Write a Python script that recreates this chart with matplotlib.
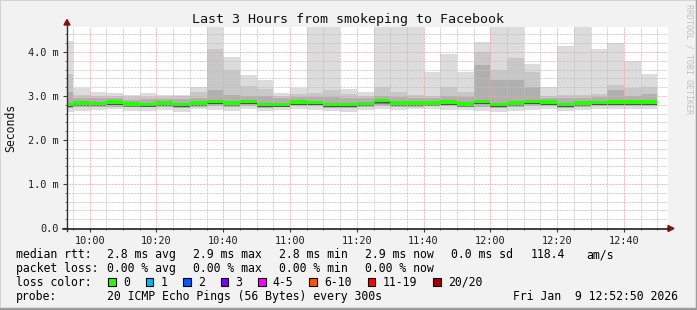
import numpy as np
import matplotlib
matplotlib.use('Agg')
import matplotlib.pyplot as plt
from matplotlib.lines import Line2D
from matplotlib.patches import Polygon, Rectangle
from matplotlib.ticker import FixedLocator

W, H = 697, 310
MONO = 'DejaVu Sans Mono'

# ---- data (times in minutes since midnight, rtt in ms) ----
title = 'Last 3 Hours from smokeping to Facebook'
t_start = 9 * 60 + 53.2
t_end = t_start + 180
slot_start = 590          # 09:50, first 5 minute slot
slot_len = 5

ping_max = [4.26, 3.18, 3.10, 3.07, 3.03, 3.07, 3.03, 3.03, 3.20, 4.80,
            3.89, 3.48, 3.36, 3.07, 3.18, 4.80, 4.80, 3.16, 3.10, 4.80,
            4.80, 4.80, 3.54, 3.95, 3.54, 4.24, 4.80, 4.80, 3.73, 3.21,
            4.14, 4.80, 4.07, 4.20, 3.79, 3.51]
ping_p90 = [3.51, 3.02, 3.00, 3.00, 2.97, 2.98, 2.98, 2.99, 3.10, 4.07,
            3.60, 3.23, 3.16, 3.00, 3.05, 3.07, 3.14, 3.05, 3.00, 3.20,
            3.10, 3.03, 3.00, 3.20, 3.10, 4.01, 3.60, 3.86, 3.54, 3.00,
            3.03, 3.03, 3.05, 3.26, 3.18, 3.20]
ping_q3 = [3.10, 2.96, 2.95, 2.95, 2.92, 2.93, 2.93, 2.93, 2.96, 3.14,
           3.03, 3.00, 3.00, 2.95, 2.97, 2.98, 2.98, 2.96, 2.95, 2.99,
           2.98, 2.96, 2.95, 3.00, 2.98, 3.70, 3.37, 3.37, 3.20, 2.95,
           2.96, 2.96, 2.97, 3.14, 3.00, 3.04]
median = [2.80, 2.84, 2.83, 2.86, 2.82, 2.80, 2.84, 2.80, 2.84, 2.87,
          2.84, 2.87, 2.81, 2.81, 2.86, 2.85, 2.81, 2.80, 2.83, 2.89,
          2.84, 2.84, 2.84, 2.86, 2.82, 2.87, 2.81, 2.84, 2.87, 2.86,
          2.80, 2.84, 2.85, 2.86, 2.86, 2.86]
ping_q1 = [2.72, 2.76, 2.76, 2.76, 2.74, 2.74, 2.76, 2.72, 2.76, 2.77,
           2.75, 2.77, 2.73, 2.74, 2.78, 2.77, 2.73, 2.72, 2.75, 2.78,
           2.75, 2.76, 2.77, 2.77, 2.75, 2.75, 2.72, 2.75, 2.77, 2.78,
           2.73, 2.76, 2.77, 2.77, 2.77, 2.77]
ping_min = [2.64, 2.67, 2.69, 2.70, 2.67, 2.66, 2.69, 2.63, 2.70, 2.68,
            2.66, 2.70, 2.66, 2.68, 2.70, 2.69, 2.66, 2.64, 2.68, 2.70,
            2.68, 2.70, 2.71, 2.69, 2.68, 2.66, 2.64, 2.67, 2.69, 2.71,
            2.66, 2.69, 2.70, 2.70, 2.70, 2.70]

x_tick_pos = [600, 620, 640, 660, 680, 700, 720, 740, 760]
x_tick_labels = ['10:00', '10:20', '10:40', '11:00', '11:20', '11:40',
                 '12:00', '12:20', '12:40']
y_tick_pos = [0, 1, 2, 3, 4]
y_tick_labels = ['0.0', '1.0 m', '2.0 m', '3.0 m', '4.0 m']

rtt_items = ['2.8 ms avg', '2.9 ms max', '2.8 ms min', '2.9 ms now',
             '0.0 ms sd', '118.4', 'am/s']
loss_items = ['0.00 % avg', '0.00 % max', '0.00 % min', '0.00 % now']
loss_labels = ['0', '1', '2', '3', '4-5', '6-10', '11-19', '20/20']
loss_colors = ['#26ff00', '#00b8ff', '#0059ff', '#7e00ff', '#ff00ff',
               '#ff5500', '#ff0000', '#a10000']
probe_text = '20 ICMP Echo Pings (56 Bytes) every 300s'
stamp_text = 'Fri Jan  9 12:52:50 2026'

# ---- figure ----
fig = plt.figure(figsize=(W / 100, H / 100), dpi=100, facecolor='#f2f2f2')
ax = fig.add_axes([67 / W, 1 - 228 / H, 601 / W, 201 / H])
ax.set_facecolor('white')
ax.set_xlim(t_start, t_end)
ax.set_ylim(0, 4.57)
for s in ax.spines.values():
    s.set_visible(False)

n = len(median)
xs = slot_start + slot_len * np.arange(n)
pmin, pmax = np.array(ping_min), np.array(ping_max)
q1, q3, p90 = np.array(ping_q1), np.array(ping_q3), np.array(ping_p90)
med = np.array(median)

# smoke layers, lightest outside
kw = dict(width=slot_len, align='edge', linewidth=0, zorder=1)
ax.bar(xs, pmax - pmin, bottom=pmin, color='#dcdcdc', **kw)
ax.bar(xs, p90 - q1, bottom=q1, color='#c8c8c8', **kw)
ax.bar(xs, q3 - q1, bottom=q1, color='#b0b0b0', **kw)
ax.bar(xs, 0.10, bottom=med - 0.06, color='#7c7c7c', **kw)
ax.bar(xs, 0.02, bottom=med - 0.055, color='#505050', **kw)
# median
ax.bar(xs, 0.075, bottom=med - 0.035, color=loss_colors[0],
       width=slot_len, align='edge', linewidth=0, zorder=4)

# grid
dots = (0, (0.72, 0.72))
ax.xaxis.set_major_locator(FixedLocator(x_tick_pos))
ax.xaxis.set_minor_locator(FixedLocator(
    [m for m in range(595, 775, 5) if m not in x_tick_pos]))
ax.yaxis.set_major_locator(FixedLocator(y_tick_pos))
ax.yaxis.set_minor_locator(FixedLocator(
    [v for v in np.round(np.arange(0.2, 4.6, 0.2), 1) if v % 1 != 0]))
ax.set_axisbelow(False)
ax.grid(which='minor', color='#c0c0c0', linestyle=dots, linewidth=0.72, zorder=2)
ax.grid(which='major', color='#f0a0a0', linestyle=dots, linewidth=0.72, zorder=2)

ax.set_xticklabels(x_tick_labels, family=MONO, fontsize=7.4, color='#202020')
ax.set_yticklabels(y_tick_labels, family=MONO, fontsize=7.4, color='#202020')
ax.tick_params(which='major', length=3, width=0.8, color='#404040', pad=3)
ax.tick_params(which='minor', length=1.5, width=0.6, color='#606060')


def fx(x):
    return x / W


def fy(y):
    return 1 - y / H


def ftext(x, y, s, **kw):
    fig.text(fx(x), fy(y), s, family=MONO, **kw)


# axis lines with arrows
fig.add_artist(Line2D([fx(67), fx(67)], [fy(231), fy(24)], color='#303030', lw=1.0))
fig.add_artist(Line2D([fx(63), fx(669)], [fy(228.5), fy(228.5)], color='#202020', lw=1.2))
fig.add_artist(Polygon([[fx(64), fy(25)], [fx(70), fy(25)], [fx(67), fy(19.5)]],
                       closed=True, color='#8b1010', transform=fig.transFigure))
fig.add_artist(Polygon([[fx(668), fy(225.5)], [fx(668), fy(231.5)], [fx(674), fy(228.5)]],
                       closed=True, color='#8b1010', transform=fig.transFigure))

# texts
ftext(348, 19, title, ha='center', va='center', fontsize=9.6, color='#101010')
ftext(11, 127.5, 'Seconds', ha='center', va='center', rotation=90,
      fontsize=8.3, color='#101010')
ftext(688.5, 4, 'RRDTOOL / TOBI OETIKER', ha='center', va='top', rotation=270,
      fontsize=6.0, color='#c0c0c0')

col_x = [107.3, 193.3, 279.3, 365.3, 451, 530.7, 586]
ftext(16, 254.5, 'median rtt:', va='center', fontsize=8.3)
for x, s in zip(col_x, rtt_items):
    ftext(x, 254.5, s, va='center', fontsize=8.3)
ftext(16, 268.5, 'packet loss:', va='center', fontsize=8.3)
for x, s in zip(col_x, loss_items):
    ftext(x, 268.5, s, va='center', fontsize=8.3)

ftext(16, 282.3, 'loss color:', va='center', fontsize=8.3)
bx = 108.3
for lab, c in zip(loss_labels, loss_colors):
    fig.add_artist(Rectangle((fx(bx), fy(286.3)), 7.7 / W, 8 / H, facecolor=c,
                             edgecolor='black', linewidth=0.8,
                             transform=fig.transFigure))
    ftext(bx + 15, 282.3, lab, va='center', fontsize=8.3)
    bx = bx + 15 + 7.0 * len(lab) + 15.4

ftext(16, 296.3, 'probe:', va='center', fontsize=8.3)
ftext(107.3, 296.3, probe_text, va='center', fontsize=8.3)
ftext(513.3, 296.3, stamp_text, va='center', fontsize=8.3)

# 3d border
fig.add_artist(Line2D([0, 0, 1], [0, 1, 1], color='#d4d4d4', lw=1.5,
                      transform=fig.transFigure))
fig.add_artist(Line2D([0, 1, 1], [0.002, 0.002, 1], color='#9c9c9c', lw=2.5,
                      transform=fig.transFigure))

fig.savefig('out.png', dpi=100, facecolor=fig.get_facecolor())
